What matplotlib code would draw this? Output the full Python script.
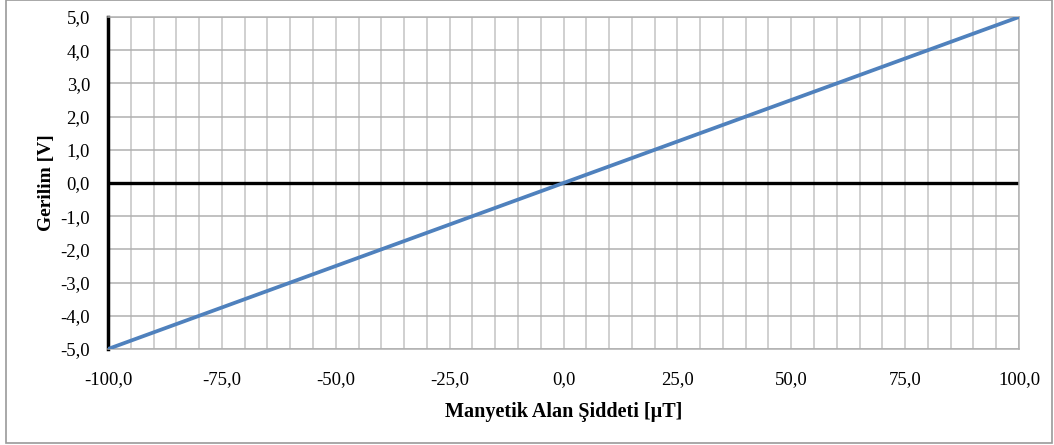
import matplotlib
matplotlib.use("Agg")
import matplotlib.pyplot as plt
from matplotlib.ticker import FixedLocator, FuncFormatter
from matplotlib.patches import Rectangle

# Data
field_uT = [-100, -90, -80, -70, -60, -50, -40, -30, -20, -10, 0,
            10, 20, 30, 40, 50, 60, 70, 80, 90, 100]
voltage_V = [-5.0, -4.5, -4.0, -3.5, -3.0, -2.5, -2.0, -1.5, -1.0, -0.5, 0.0,
             0.5, 1.0, 1.5, 2.0, 2.5, 3.0, 3.5, 4.0, 4.5, 5.0]
x_ticks = [-100, -75, -50, -25, 0, 25, 50, 75, 100]
y_ticks = [-5, -4, -3, -2, -1, 0, 1, 2, 3, 4, 5]
x_label = "Manyetik Alan Şiddeti [µT]"
y_label = "Gerilim [V]"

plt.rcParams['font.family'] = ['Liberation Serif', 'DejaVu Serif']

W, H = 1054, 445
fig = plt.figure(figsize=(W / 100, H / 100), dpi=100)
fig.patch.set_facecolor('white')

# outer chart border
fig.add_artist(Rectangle((6 / W, 2 / H), (W - 8) / W, (H - 2) / H,
                         transform=fig.transFigure, fill=False,
                         edgecolor='#9a9a9a', linewidth=1.2))

ax = fig.add_axes([108 / W, 1 - 349 / H, (1019 - 108) / W, (349 - 17) / H])
ax.set_xlim(-100, 100)
ax.set_ylim(-5, 5)

ax.xaxis.set_major_locator(FixedLocator(x_ticks))
ax.xaxis.set_minor_locator(FixedLocator(list(range(-100, 101, 5))))
ax.yaxis.set_major_locator(FixedLocator(y_ticks))

fmt = FuncFormatter(lambda v, p: f"{v:.1f}".replace('.', ','))
ax.xaxis.set_major_formatter(fmt)
ax.yaxis.set_major_formatter(fmt)

ax.grid(True, which='both', axis='x', color='#c3c3c3', linewidth=1.1)
ax.grid(True, which='major', axis='y', color='#b0b0b0', linewidth=1.1)
ax.set_axisbelow(True)

ax.tick_params(axis='both', which='both', length=0, labelsize=13.5, colors='black')
ax.tick_params(axis='x', pad=16)
ax.tick_params(axis='y', pad=13)

for s in ['top', 'right', 'bottom']:
    ax.spines[s].set_color('#b0b0b0')
    ax.spines[s].set_linewidth(1.1)
ax.spines['left'].set_color('black')
ax.spines['left'].set_linewidth(2.5)

ax.axhline(0, color='black', linewidth=2.4, zorder=2)

ax.plot(field_uT, voltage_V, color='#4f81bd', linewidth=2.7, zorder=3,
        solid_capstyle='round')

ax.set_xlabel(x_label, fontsize=14.5, fontweight='bold', labelpad=10)
ax.set_ylabel(y_label, fontsize=14, fontweight='bold', labelpad=4)

fig.savefig("out.png", dpi=100)
